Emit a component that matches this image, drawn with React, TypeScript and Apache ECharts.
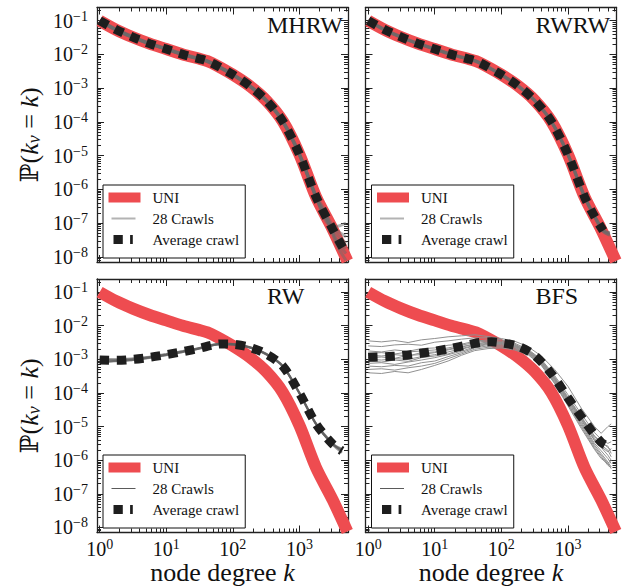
import React, { useEffect, useRef } from "react";
import * as echarts from "echarts";

// ---------- text ----------
const panelNames = ["MHRW", "RWRW", "RW", "BFS"];
const legendNames = ["UNI", "28 Crawls", "Average crawl"];
const xTickExponents = [0, 1, 2, 3];
const yTickExponents = [-8, -7, -6, -5, -4, -3, -2, -1];

// ---------- data (log10 k, log10 P) ----------
const uniLogK = [0, 0.25, 0.5, 0.75, 1, 1.25, 1.5, 1.62, 1.75, 2, 2.25, 2.5, 2.75, 3, 3.25, 3.5, 3.72];
const uniLogP = [-1.0, -1.27, -1.49, -1.68, -1.84, -2.0, -2.13, -2.2, -2.32, -2.6, -2.93, -3.36, -3.98, -4.96, -6.22, -7.18, -8.12];

// MHRW
const mhrwAvgLogK = [0, 0.25, 0.5, 0.75, 1, 1.25, 1.5, 1.62, 1.75, 2, 2.25, 2.5, 2.75, 3, 3.25, 3.5, 3.65];
const mhrwAvgLogP = [-1.0, -1.27, -1.49, -1.68, -1.84, -2.0, -2.13, -2.2, -2.32, -2.6, -2.93, -3.36, -3.98, -4.96, -6.22, -7.18, -7.72];
const mhrwCrawlLogK = [0, 0.25, 0.5, 0.75, 1, 1.25, 1.5, 1.62, 1.75, 2, 2.25, 2.5, 2.75, 3, 3.25, 3.4, 3.55, 3.7];
const mhrwCrawl1 = [-1.02, -1.28, -1.5, -1.69, -1.85, -2.01, -2.14, -2.21, -2.33, -2.61, -2.94, -3.37, -3.99, -4.97, -6.2, -6.75, -7.1, -7.0];
const mhrwCrawl2 = [-0.98, -1.25, -1.47, -1.67, -1.82, -1.98, -2.12, -2.19, -2.31, -2.58, -2.91, -3.34, -3.96, -4.93, -6.24, -6.85, -7.5, -7.9];
const mhrwCrawl3 = [-1.0, -1.29, -1.5, -1.66, -1.85, -2.0, -2.15, -2.22, -2.34, -2.62, -2.95, -3.38, -4.0, -4.99, -6.25, -6.9, -7.3, -7.6];
const mhrwCrawl4 = [-1.01, -1.26, -1.48, -1.7, -1.83, -2.02, -2.13, -2.19, -2.32, -2.59, -2.92, -3.35, -3.97, -4.95, -6.18, -6.7, -7.6, -8.1];
const mhrwCrawl5 = [-0.99, -1.27, -1.49, -1.68, -1.84, -1.99, -2.14, -2.2, -2.33, -2.6, -2.93, -3.36, -3.98, -4.96, -6.22, -6.95, -7.2, -7.4];
const mhrwCrawl6 = [-1.0, -1.28, -1.5, -1.68, -1.84, -2.0, -2.13, -2.21, -2.32, -2.6, -2.93, -3.37, -3.99, -4.96, -6.23, -6.8, -7.45, -7.75];

// RWRW
const rwrwAvgLogK = [0, 0.25, 0.5, 0.75, 1, 1.25, 1.5, 1.62, 1.75, 2, 2.25, 2.5, 2.75, 3, 3.25, 3.4, 3.53];
const rwrwAvgLogP = [-1.0, -1.27, -1.49, -1.68, -1.84, -2.0, -2.13, -2.2, -2.32, -2.6, -2.93, -3.36, -3.98, -4.96, -6.22, -6.8, -7.22];
const rwrwCrawlLogK = [0, 0.25, 0.5, 0.75, 1, 1.25, 1.5, 1.62, 1.75, 2, 2.25, 2.5, 2.75, 3, 3.25, 3.4, 3.53, 3.63];
const rwrwCrawl1 = [-1.01, -1.28, -1.5, -1.69, -1.85, -2.01, -2.14, -2.21, -2.33, -2.61, -2.94, -3.37, -3.99, -4.97, -6.21, -6.78, -7.2, -7.3];
const rwrwCrawl2 = [-0.99, -1.26, -1.48, -1.67, -1.83, -1.99, -2.12, -2.19, -2.31, -2.59, -2.92, -3.35, -3.97, -4.95, -6.23, -6.82, -7.25, -7.36];
const rwrwCrawl3 = [-1.0, -1.27, -1.5, -1.68, -1.84, -2.0, -2.14, -2.2, -2.33, -2.6, -2.94, -3.36, -3.98, -4.97, -6.22, -6.8, -7.21, -7.28];
const rwrwCrawl4 = [-1.02, -1.28, -1.49, -1.69, -1.84, -2.01, -2.13, -2.21, -2.32, -2.61, -2.93, -3.37, -3.99, -4.96, -6.2, -6.79, -7.23, -7.33];

// RW
const rwLogK = [0, 0.25, 0.5, 0.75, 1, 1.25, 1.5, 1.7, 1.85, 2, 2.25, 2.5, 2.75, 3, 3.25, 3.5, 3.64];
const rwAvgLogP = [-3.02, -3.03, -3.0, -2.94, -2.86, -2.77, -2.67, -2.57, -2.54, -2.55, -2.64, -2.84, -3.2, -4.0, -4.92, -5.52, -5.72];
const rwCrawl1 = [-3.08, -3.05, -3.02, -2.95, -2.88, -2.78, -2.68, -2.58, -2.55, -2.56, -2.65, -2.85, -3.21, -4.01, -4.93, -5.53, -5.68];
const rwCrawl2 = [-2.98, -3.0, -2.97, -2.92, -2.84, -2.75, -2.66, -2.56, -2.53, -2.54, -2.63, -2.83, -3.19, -3.99, -4.91, -5.5, -5.75];
const rwCrawl3 = [-3.04, -3.06, -3.02, -2.96, -2.87, -2.78, -2.68, -2.58, -2.55, -2.55, -2.64, -2.85, -3.2, -4.0, -4.93, -5.54, -5.78];
const rwCrawl4 = [-3.0, -3.01, -2.99, -2.93, -2.85, -2.76, -2.66, -2.57, -2.54, -2.56, -2.65, -2.84, -3.21, -4.01, -4.92, -5.51, -5.66];
const rwCrawl5 = [-3.1, -3.04, -3.01, -2.94, -2.86, -2.77, -2.67, -2.57, -2.53, -2.55, -2.64, -2.84, -3.2, -4.0, -4.92, -5.52, -5.7];

// BFS
const bfsAvgLogK = [0, 0.25, 0.5, 0.75, 1, 1.25, 1.5, 1.7, 1.85, 2, 2.25, 2.5, 2.75, 3, 3.25, 3.5, 3.63];
const bfsAvgLogP = [-2.94, -2.92, -2.89, -2.83, -2.76, -2.67, -2.57, -2.49, -2.48, -2.51, -2.61, -2.88, -3.42, -4.14, -4.84, -5.47, -5.6];
const bfsCrawlLogK = [0, 0.2, 0.4, 0.6, 0.8, 1.0, 1.2, 1.4, 1.6, 1.8, 2.0, 2.2, 2.4, 2.6, 2.8, 3.0, 3.2, 3.4, 3.5, 3.6, 3.65];
const bfsCrawl1 = [-2.45, -2.48, -2.44, -2.5, -2.42, -2.38, -2.33, -2.3, -2.27, -2.32, -2.38, -2.46, -2.62, -2.9, -3.3, -3.8, -4.45, -5.0, -5.2, -5.0, -4.92];
const bfsCrawl2 = [-2.6, -2.62, -2.57, -2.55, -2.58, -2.49, -2.45, -2.4, -2.36, -2.36, -2.42, -2.52, -2.7, -3.0, -3.48, -4.05, -4.62, -5.18, -5.38, -5.5, -5.45];
const bfsCrawl3 = [-2.75, -2.78, -2.72, -2.76, -2.68, -2.66, -2.58, -2.55, -2.46, -2.42, -2.46, -2.55, -2.72, -3.02, -3.52, -4.12, -4.7, -5.28, -5.45, -5.62, -5.7];
const bfsCrawl4 = [-2.82, -2.8, -2.84, -2.78, -2.75, -2.72, -2.66, -2.58, -2.5, -2.45, -2.49, -2.57, -2.74, -3.04, -3.55, -4.15, -4.72, -5.3, -5.5, -5.58, -5.8];
const bfsCrawl5 = [-2.88, -2.9, -2.86, -2.9, -2.8, -2.78, -2.7, -2.62, -2.55, -2.48, -2.5, -2.58, -2.75, -3.05, -3.56, -4.18, -4.75, -5.35, -5.55, -5.7, -5.9];
const bfsCrawl6 = [-2.95, -2.93, -2.97, -2.88, -2.86, -2.8, -2.72, -2.64, -2.54, -2.5, -2.52, -2.6, -2.76, -3.06, -3.58, -4.2, -4.78, -5.4, -5.62, -5.85, -6.0];
const bfsCrawl7 = [-3.0, -3.02, -2.98, -3.0, -2.92, -2.86, -2.78, -2.68, -2.58, -2.52, -2.53, -2.61, -2.78, -3.08, -3.6, -4.22, -4.8, -5.42, -5.6, -5.75, -5.65];
const bfsCrawl8 = [-3.05, -3.08, -3.02, -3.06, -2.95, -2.9, -2.84, -2.7, -2.6, -2.54, -2.55, -2.62, -2.79, -3.1, -3.62, -4.25, -4.85, -5.5, -5.72, -5.95, -6.1];
const bfsCrawl9 = [-3.12, -3.1, -3.15, -3.08, -3.02, -2.95, -2.86, -2.76, -2.63, -2.56, -2.57, -2.64, -2.8, -3.12, -3.65, -4.28, -4.9, -5.55, -5.8, -6.05, -6.2];
const bfsCrawl10 = [-3.2, -3.22, -3.18, -3.2, -3.1, -3.05, -2.92, -2.8, -2.66, -2.6, -2.6, -2.66, -2.82, -3.14, -3.68, -4.32, -4.95, -5.6, -5.85, -6.1, -6.25];
const bfsCrawl11 = [-3.3, -3.28, -3.32, -3.25, -3.2, -3.12, -2.98, -2.84, -2.7, -2.64, -2.63, -2.69, -2.84, -3.16, -3.7, -4.35, -5.0, -5.65, -5.9, -6.15, -6.22];
const bfsCrawl12 = [-3.4, -3.42, -3.36, -3.4, -3.3, -3.18, -3.05, -2.88, -2.74, -2.68, -2.66, -2.72, -2.86, -3.18, -3.72, -4.38, -5.05, -5.68, -5.95, -6.1, -6.0];

// ---------- styling ----------
const SERIF = "Liberation Serif";
const RED = "#ee4c50";
const AVG = "#1e1e1e";
const AXIS = "#222";
const X_MIN = -0.04, X_MAX = 3.73;
const Y_MIN = -8.15, Y_MAX = -0.61;

const minorMult = [2, 3, 4, 5, 6, 7, 8, 9];
const xMinorTicks: number[] = [];
[-1, 0, 1, 2, 3].forEach((d) => minorMult.forEach((m) => xMinorTicks.push(d + Math.log10(m))));
const yMinorTicks: number[] = [];
[-9, -8, -7, -6, -5, -4, -3, -2, -1].forEach((d) => minorMult.forEach((m) => yMinorTicks.push(d + Math.log10(m))));

const grids = [
  { left: 97, top: 7.5, width: 251, height: 254.5, bottomRow: false, leftCol: true },
  { left: 365.5, top: 7.5, width: 251, height: 254.5, bottomRow: false, leftCol: false },
  { left: 97, top: 279, width: 251, height: 253.5, bottomRow: true, leftCol: true },
  { left: 365.5, top: 279, width: 251, height: 253.5, bottomRow: true, leftCol: false },
];

const pts = (xs: number[], ys: number[]) => xs.map((x, i) => [x, ys[i]]);

const supLabel = (v: number) => {
  const e = Math.round(v);
  return `{b|10}{s|${e < 0 ? "\u2212" : ""}${Math.abs(e)}}`;
};
const labelRich = {
  b: { fontSize: 20, fontFamily: SERIF, color: "#111" },
  s: { fontSize: 14, fontFamily: SERIF, color: "#111", padding: [0, 0, 9, 0] },
};

function makeAxes(dim: "x" | "y", gi: number, showLabels: boolean) {
  const isX = dim === "x";
  const min = isX ? X_MIN : Y_MIN;
  const max = isX ? X_MAX : Y_MAX;
  const major = isX ? xTickExponents : yTickExponents;
  const minor = isX ? xMinorTicks : yMinorTicks;
  const pos1 = isX ? "bottom" : "left";
  const pos2 = isX ? "top" : "right";
  const base = { gridIndex: gi, type: "value", min, max, splitLine: { show: false }, axisPointer: { show: false } };
  const line = { show: true, onZero: false, lineStyle: { color: AXIS, width: 1.3 } };
  const noLine = { show: false, onZero: false };
  const majTick = { show: true, inside: true, length: 7, customValues: major, lineStyle: { color: AXIS, width: 1 } };
  const minTick = { show: true, inside: true, length: 4, customValues: minor, lineStyle: { color: AXIS, width: 1 } };
  const nameCfg = isX
    ? {
        name: showLabels ? "{n|node degree }{i|k}" : "",
        nameLocation: "middle",
        nameGap: 25,
        nameTextStyle: {
          rich: {
            n: { fontSize: 26, fontFamily: SERIF, color: "#111" },
            i: { fontSize: 26, fontFamily: SERIF, fontStyle: "italic", color: "#111" },
          },
        },
      }
    : {
        name: showLabels ? "{p|\u2119}{n|(}{i|k}{s|v}{n| = }{i|k}{n|)}" : "",
        nameLocation: "middle",
        nameRotate: 90,
        nameGap: 54,
        nameTextStyle: {
          rich: {
            p: { fontSize: 25, fontFamily: "DejaVu Serif", color: "#111" },
            n: { fontSize: 26, fontFamily: SERIF, color: "#111" },
            i: { fontSize: 26, fontFamily: SERIF, fontStyle: "italic", color: "#111" },
            s: { fontSize: 18, fontFamily: SERIF, fontStyle: "italic", color: "#111", padding: [10, 0, 0, 0] },
          },
        },
      };
  return [
    {
      ...base,
      position: pos1,
      axisLine: line,
      axisTick: majTick,
      axisLabel: { show: showLabels, customValues: major, formatter: supLabel, rich: labelRich, margin: isX ? 5 : 9 },
      ...nameCfg,
    },
    { ...base, position: pos1, axisLine: noLine, axisTick: minTick, axisLabel: { show: false } },
    { ...base, position: pos2, axisLine: line, axisTick: majTick, axisLabel: { show: false } },
    { ...base, position: pos2, axisLine: noLine, axisTick: minTick, axisLabel: { show: false } },
  ];
}

type PanelData = {
  avgK: number[];
  avgP: number[];
  crawlK: number[];
  crawls: number[][];
  crawlColor: string;
  crawlWidth: number;
  crawlSmooth: number | boolean;
  legendCrawlColor: string;
  legendCrawlThick: boolean;
};

const panels: PanelData[] = [
  {
    avgK: mhrwAvgLogK, avgP: mhrwAvgLogP, crawlK: mhrwCrawlLogK,
    crawls: [mhrwCrawl1, mhrwCrawl2, mhrwCrawl3, mhrwCrawl4, mhrwCrawl5, mhrwCrawl6],
    crawlColor: "rgba(105,105,105,0.5)", crawlWidth: 3, crawlSmooth: 0.3,
    legendCrawlColor: "#b3b3b3", legendCrawlThick: true,
  },
  {
    avgK: rwrwAvgLogK, avgP: rwrwAvgLogP, crawlK: rwrwCrawlLogK,
    crawls: [rwrwCrawl1, rwrwCrawl2, rwrwCrawl3, rwrwCrawl4],
    crawlColor: "rgba(105,105,105,0.55)", crawlWidth: 3, crawlSmooth: 0.3,
    legendCrawlColor: "#b3b3b3", legendCrawlThick: true,
  },
  {
    avgK: rwLogK, avgP: rwAvgLogP, crawlK: rwLogK,
    crawls: [rwCrawl1, rwCrawl2, rwCrawl3, rwCrawl4, rwCrawl5],
    crawlColor: "rgba(95,95,95,0.6)", crawlWidth: 2, crawlSmooth: 0.3,
    legendCrawlColor: "#5a5a5a", legendCrawlThick: false,
  },
  {
    avgK: bfsAvgLogK, avgP: bfsAvgLogP, crawlK: bfsCrawlLogK,
    crawls: [bfsCrawl1, bfsCrawl2, bfsCrawl3, bfsCrawl4, bfsCrawl5, bfsCrawl6, bfsCrawl7, bfsCrawl8, bfsCrawl9, bfsCrawl10, bfsCrawl11, bfsCrawl12],
    crawlColor: "#909090", crawlWidth: 1, crawlSmooth: false,
    legendCrawlColor: "#5a5a5a", legendCrawlThick: false,
  },
];

function buildOption() {
  const xAxis: any[] = [];
  const yAxis: any[] = [];
  const series: any[] = [];
  const legend: any[] = [];
  const title: any[] = [];

  grids.forEach((g, gi) => {
    xAxis.push(...makeAxes("x", gi, g.bottomRow));
    yAxis.push(...makeAxes("y", gi, g.leftCol));
    const xi = gi * 4;
    const p = panels[gi];

    series.push({
      type: "line", name: legendNames[0], xAxisIndex: xi, yAxisIndex: xi,
      data: pts(uniLogK, uniLogP), symbol: "none", smooth: 0.3, silent: true,
      lineStyle: { color: RED, width: 12 },
    });
    p.crawls.forEach((c) => {
      series.push({
        type: "line", name: legendNames[1], xAxisIndex: xi, yAxisIndex: xi,
        data: pts(p.crawlK, c), symbol: "none", smooth: p.crawlSmooth, silent: true,
        lineStyle: { color: p.crawlColor, width: p.crawlWidth },
      });
    });
    series.push({
      type: "line", name: legendNames[2], xAxisIndex: xi, yAxisIndex: xi,
      data: pts(p.avgK, p.avgP), symbol: "none", smooth: 0.3, silent: true,
      lineStyle: { color: AVG, width: 9, type: [9.4, 7.8], cap: "butt" },
    });

    const crawlPath = p.legendCrawlThick
      ? "path://M0,0M39,10M3,4H27V6H3Z"
      : "path://M0,0M39,10M3,4.5H27V5.5H3Z";
    legend.push({
      orient: "vertical",
      left: g.left + 6,
      top: g.top + (g.bottomRow ? 176 : 177.5),
      padding: [5, 6, 11, 5.5],
      itemWidth: 39,
      itemHeight: 10,
      itemGap: 6,
      borderColor: "#111",
      borderWidth: 1,
      borderRadius: 0,
      backgroundColor: "#fff",
      selectedMode: false,
      textStyle: { fontFamily: SERIF, fontSize: 15, color: "#111" },
      data: [
        { name: legendNames[0], icon: "path://M0,0M39,10M0,0H32V10H0Z", itemStyle: { color: RED, borderWidth: 0 } },
        { name: legendNames[1], icon: crawlPath, itemStyle: { color: p.legendCrawlColor, borderWidth: 0 } },
        {
          name: legendNames[2],
          icon: "path://M0,0M39,10M5,0.5H14.3V9.5H5ZM21.6,0.5H24.3V9.5H21.6Z",
          itemStyle: { color: AVG, borderWidth: 0 },
        },
      ],
    });

    title.push({
      text: panelNames[gi],
      left: g.left + 170,
      top: g.top + (g.bottomRow ? 4.5 : 5.5),
      padding: 0,
      textStyle: { fontFamily: SERIF, fontSize: 24, fontWeight: "normal", color: "#111" },
    });
  });

  return {
    animation: false,
    backgroundColor: "#fff",
    textStyle: { fontFamily: SERIF },
    grid: grids.map((g) => ({
      left: g.left, top: g.top, width: g.width, height: g.height,
      containLabel: false, outerBoundsMode: "none",
    })),
    xAxis,
    yAxis,
    legend,
    title,
    series,
  };
}

export default function App() {
  const ref = useRef<HTMLDivElement>(null);
  useEffect(() => {
    if (!ref.current) return;
    const chart = echarts.init(ref.current, undefined, { renderer: "svg" });
    chart.setOption(buildOption() as any);
    return () => chart.dispose();
  }, []);
  return (
    <div
      ref={ref}
      style={{ position: "fixed", left: 0, top: 0, width: 625, height: 588, background: "#fff" }}
    />
  );
}
